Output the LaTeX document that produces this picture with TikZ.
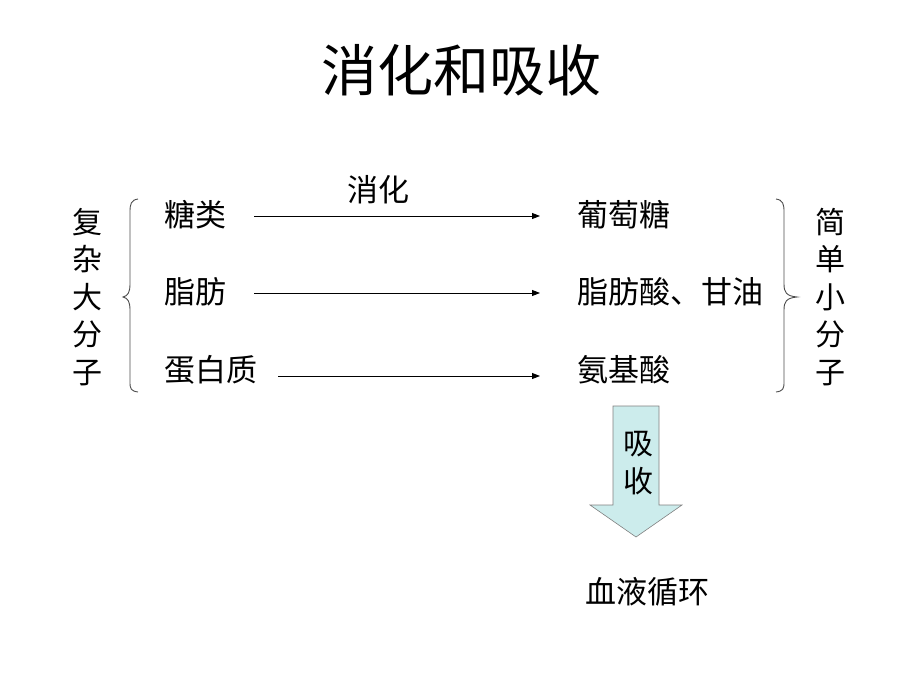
\documentclass[tikz,border=0pt]{standalone}
\usepackage{fontspec}
\newfontfamily\cjk{Noto Sans CJK SC}
\usetikzlibrary{arrows.meta}
\definecolor{arrowfill}{RGB}{204,236,236}
\definecolor{arrowedge}{RGB}{128,128,128}
\tikzset{
  txt/.style={inner sep=0pt, font=\cjk\fontsize{31}{36}\selectfont},
  vtxt/.style={inner sep=0pt, align=center, font=\cjk\fontsize{30}{37.5}\selectfont},
  conn/.style={draw=black, line width=0.9pt, -{Triangle[length=8pt,width=6pt]}},
  bracestyle/.style={draw=black!70, line width=0.9pt},
  blockarrow/.style={draw=arrowedge, line width=0.6pt, fill=arrowfill}
}
\begin{document}
\begin{tikzpicture}[x=1pt,y=-1pt]
\useasboundingbox (0,0) rectangle (920,690);
% title
\node[inner sep=0pt, font=\cjk\fontsize{56}{60}\selectfont] (title) at (461,70) {消化和吸收};
% left column
\node[txt, anchor=west] (tang) at (164,215) {糖类};
\node[txt, anchor=west] (zhi) at (164,292) {脂肪};
\node[txt, anchor=west] (dan) at (164,370) {蛋白质};
% right column
\node[txt, anchor=west] (putao) at (577,215) {葡萄糖};
\node[txt, anchor=west] (zhisuan) at (577,292) {脂肪酸、甘油};
\node[txt, anchor=west] (anji) at (577,370) {氨基酸};
% label
\node[txt] (xiaohua) at (378,190) {消化};
% connectors
\draw[conn] ([xshift=28pt,yshift=-1pt]tang.east) -- ([xshift=-37pt,yshift=-1pt]putao.west);
\draw[conn] ([xshift=28pt,yshift=-1pt]zhi.east) -- ([xshift=-37pt,yshift=-1pt]zhisuan.west);
\draw[conn] ([xshift=21pt,yshift=-6pt]dan.east) -- ([xshift=-37pt,yshift=-6pt]anji.west);
% vertical texts
\node[vtxt] (fuza) at (87,297) {复\\杂\\大\\分\\子};
\node[vtxt] (jiandan) at (830,297) {简\\单\\小\\分\\子};
% braces
\draw[bracestyle] (138,199) .. controls (131,200) and (130,204) .. (130,212)
  -- (130,284) .. controls (130,292) and (128,296) .. (123,297)
  .. controls (128,298) and (130,302) .. (130,310)
  -- (130,382) .. controls (130,389) and (131,391) .. (138,392);
\draw[bracestyle] (776,199) .. controls (783,200) and (784,204) .. (784,212)
  -- (784,284) .. controls (784,292) and (786,296) .. (797,297)
  .. controls (786,298) and (784,302) .. (784,310)
  -- (784,382) .. controls (784,389) and (783,391) .. (776,392);
% block arrow
\draw[blockarrow] (613,406) -- (659,406) -- (659,505) -- (682,505) -- (636,537) -- (590,505) -- (613,505) -- cycle;
\node[vtxt] (xishou) at (638,463) {吸\\收};
% bottom text
\node[txt] (xueye) at (647,592) {血液循环};
\end{tikzpicture}
\end{document}
